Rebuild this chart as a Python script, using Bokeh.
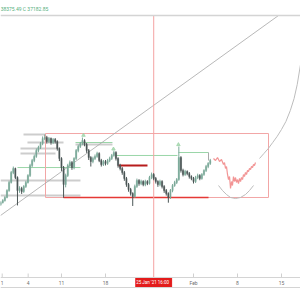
from bokeh.plotting import figure
from bokeh.models import Range1d, Span, ColumnDataSource
from bokeh.core.properties import value
from bokeh.embed import file_html
from bokeh.resources import INLINE

# ---------------- data ----------------
first_open = 29170
closes = [29530, 29900, 30450, 31720, 33190, 35010, 35740, 34100, 31720, 32090,
          31540, 32460, 33190, 34460, 36290, 37200, 37930, 39030, 39580, 40310,
          41220, 41400, 40670, 41220, 40490, 41040, 40670, 39390, 37570, 35920,
          32820, 34460, 36290, 36840, 35920, 37570, 39030, 39760, 40310, 40850,
          40120, 39030, 37750, 37020, 37570, 37930, 38480, 37200, 36470, 37020,
          36660, 37200, 37570, 38120, 38660, 37570, 36290, 35740, 35010, 33920,
          32820, 31910, 31180, 30630, 32460, 33550, 33000, 33370, 32820, 33370,
          33000, 34100, 34650, 33920, 33370, 32820, 33370, 32460, 31720, 31180,
          30450, 31720, 32640, 33190, 33730, 37750, 35380, 34650, 35190, 34830,
          34280, 33920, 33370, 34100, 34460, 33920, 34650, 35380, 36110, 36660,
          37200]
highs = [29800, 30150, 30700, 31950, 33500, 35300, 36100, 35900, 34300, 32500,
         32400, 32700, 33500, 34700, 36600, 37500, 38300, 39400, 39900, 40600,
         41600, 41950, 41700, 41500, 41400, 41300, 41300, 40900, 39600, 37800,
         36200, 34800, 36600, 37200, 37100, 37800, 39300, 40100, 40600, 41400,
         41100, 40400, 39300, 38000, 37900, 38300, 38800, 38700, 37500, 37300,
         37300, 37500, 37900, 38400, 39000, 38900, 37800, 36600, 36000, 35300,
         34200, 33100, 32200, 31400, 32800, 33900, 33800, 33700, 33600, 33700,
         33600, 34400, 35000, 34900, 34200, 33600, 33700, 33600, 32700, 32000,
         31400, 32000, 32900, 33500, 34000, 39760, 38000, 35700, 35500, 35400,
         35100, 34500, 34200, 34400, 34800, 34700, 34900, 35600, 36400, 36900,
         37500]
lows = [28900, 29350, 29700, 30300, 31500, 33000, 34700, 33800, 29000, 31300,
        31100, 31300, 32200, 33000, 34200, 36000, 36900, 37700, 38700, 39300,
        40000, 40900, 40300, 40400, 40100, 40200, 40300, 39000, 37100, 35300,
        30400, 32300, 34200, 35900, 35500, 35600, 37300, 38700, 39500, 40000,
        39800, 38600, 37300, 36100, 36700, 37300, 37700, 36900, 36100, 36200,
        36300, 36400, 36900, 37300, 37900, 37200, 35900, 35400, 34600, 33500,
        32400, 31500, 30800, 28900, 30400, 32200, 32600, 32700, 32500, 32500,
        32700, 32800, 33800, 33600, 33000, 32400, 32500, 32100, 31300, 30800,
        29500, 30200, 31400, 32400, 32900, 33500, 35000, 34300, 34400, 34500,
        33900, 33600, 33000, 33100, 33800, 33600, 33700, 34400, 35100, 35800,
        36400]
# candle times: 8-hour bars, in days since 1 Jan 2021
candle_day = [k / 3 for k in range(1, len(closes) + 1)]

tick_days = [0.57, 4.7, 10, 17, 31, 38, 45]
tick_labels = ["1", "4", "11", "18", "Feb", "8", "15"]
cursor_day = 24.67
cursor_label = "25 Jan '21   16:00"
legend_text = "38375.49 C 37182.85"

# price levels of the chart pane / time-axis strip
pane_top, pane_bottom, strip_bottom = 63680, 15840, 14010
tick_top, label_level, legend_level = 16570, 14925, 64780

# projection path drawn on the chart
proj_day = [34.18, 34.50, 34.82, 35.14, 35.45, 35.77, 35.93, 36.09, 36.25, 36.41,
            36.57, 36.73, 36.89, 37.05, 37.20, 37.36, 37.52, 37.68, 37.84, 38.00,
            38.16, 38.32, 38.48, 38.64, 38.80, 38.95, 39.11, 39.27, 39.43, 39.59,
            39.75, 39.91, 40.07, 40.23, 40.39, 40.55, 40.70, 40.86]
proj_price = [37570, 37200, 37750, 37020, 37390, 36470, 36840, 35740, 36110, 34650,
              33730, 34280, 32090, 33370, 32640, 34280, 33370, 34100, 33190, 33730,
              33000, 33920, 33370, 34100, 33730, 34650, 34280, 35010, 34650, 35380,
              35190, 35740, 35560, 36110, 35920, 36470, 36290, 36840]
arc_day = [34.98, 35.61, 36.25, 36.89, 37.68, 38.48, 39.27, 39.91, 40.55]
arc_price = [32640, 31720, 30990, 30450, 30260, 30450, 30990, 31720, 32640]
curve_day = [41.5, 42.2, 42.9, 43.6, 44.3, 45.0, 45.7, 46.4, 47.0, 47.5, 48.02]
curve_price = [37570, 38480, 39390, 40490, 41590, 42870, 44330, 46330, 48520, 51080, 54730]
trend_day = [0.3, 44.52]
trend_price = [27160, 63680]

rect_left, rect_right, rect_top, rect_bottom = 7.46, 42.93, 42130, 30450
support_day = [10.32, 33.39]
support_price = 30450
resist_day = [19.07, 23.68]
resist_price = 36290

gray_price = [41950, 40490, 39390, 38480, 33550, 30810, 40120]
gray_x0 = [3.96, 4.59, 3.48, 3.48, 0.3, 0.3, 12.23]
gray_x1 = [7.46, 10.32, 9.52, 9.05, 13.02, 13.02, 18.11]
green_price = [38120, 38660, 35920, 40490]
green_x0 = [18.59, 28.61, 3.0, 12.23]
green_x1 = [28.45, 33.39, 13.02, 18.11]
marker_day = [13.5, 18.27, 28.6]
marker_price = [41800, 39300, 40100]

# ---------------- figure ----------------
p = figure(width=300, height=300, x_range=Range1d(0.3, 48.02), y_range=Range1d(11640, 66420),
           output_backend="svg", toolbar_location=None, x_axis_location=None, y_axis_location=None,
           min_border=0)
p.grid.visible = False
p.outline_line_color = None
p.background_fill_color = "white"
p.border_fill_color = "white"

font = value("Roboto")

# pane borders
for lvl, w in [(pane_top, 1.5), (pane_bottom, 1.2), (strip_bottom, 1.2)]:
    p.add_layout(Span(location=lvl, dimension="width", line_color="#d4d4d4", line_width=w))

# drawings
p.segment(x0=gray_x0, y0=gray_price, x1=gray_x1, y1=gray_price, line_color="#c8c8c8", line_width=2, line_alpha=0.9)
p.segment(x0=green_x0, y0=green_price, x1=green_x1, y1=green_price, line_color="#9ad6a8", line_width=1)
p.segment(x0=[green_x1[1]], y0=[green_price[1]], x1=[green_x1[1]], y1=[closes[-1]], line_color="#a8a8a8", line_width=1)
p.quad(left=[rect_left], right=[rect_right], top=[rect_top], bottom=[rect_bottom],
       fill_color=None, line_color="#f2a6a6", line_width=1)
p.line(trend_day, trend_price, line_color="#a6a6a6", line_width=0.8)
p.line(support_day, [support_price] * 2, line_color="#e53935", line_width=1.6)
p.line(resist_day, [resist_price] * 2, line_color="#b71c1c", line_width=2)
p.segment(x0=[cursor_day], y0=[pane_bottom], x1=[cursor_day], y1=[pane_top], line_color="#f4a3a3", line_width=1)

p.line(arc_day, arc_price, line_color="#bdbdbd", line_width=1)
p.line(curve_day, curve_price, line_color="#bdbdbd", line_width=1)
p.line(proj_day, proj_price, line_color="#f29595", line_width=1.2)

# candles
opens = [first_open] + closes[:-1]
up = [c >= o for o, c in zip(opens, closes)]
src = ColumnDataSource(dict(
    x=candle_day, o=opens, c=closes, h=highs, l=lows,
    top=[max(o, c) for o, c in zip(opens, closes)],
    bot=[min(o, c) for o, c in zip(opens, closes)],
    col=["#7aa898" if u else "#4b5656" for u in up]))
p.segment(x0="x", y0="h", x1="x", y1="l", line_color="col", line_width=1, source=src)
p.vbar(x="x", width=0.2, top="top", bottom="bot", fill_color="col", line_color="col", line_width=0.4, source=src)

p.scatter(marker_day, marker_price, marker="triangle", size=3.5, fill_color="#9fd4a9", line_color="#9fd4a9", alpha=0.8)

# time axis strip: ticks and labels
p.segment(x0=tick_days, y0=[pane_bottom] * len(tick_days), x1=tick_days, y1=[tick_top] * len(tick_days),
          line_color="#d0d0d0", line_width=1)
p.text(x=tick_days, y=[label_level] * len(tick_days), text=tick_labels, text_font=font,
       text_font_size="5px", text_color="#6f6f6f", text_align="center", text_baseline="middle")
p.quad(left=[cursor_day - 2.85], right=[cursor_day + 2.85], top=[pane_bottom], bottom=[strip_bottom],
       fill_color="#e31b1b", line_color="#e31b1b")
p.text(x=[cursor_day], y=[label_level], text=[cursor_label], text_font=font, text_font_size="4.5px",
       text_color="white", text_align="center", text_baseline="middle")

# legend text at the top
p.text(x=[0.32], y=[legend_level], text=[legend_text], text_font=font, text_font_size="5px",
       text_color="#56b07e", text_align="left", text_baseline="middle")

open("out.html", "w").write(file_html(p, INLINE))
